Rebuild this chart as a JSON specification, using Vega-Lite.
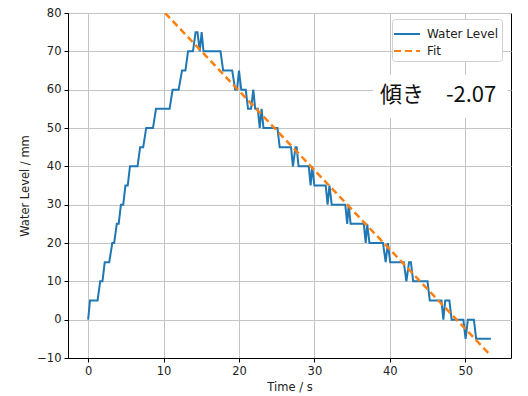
{
  "$schema": "https://vega.github.io/schema/vega-lite/v6.json",
  "width": 443,
  "height": 345,
  "autosize": {"type": "none"},
  "padding": {"left": 68, "top": 13, "right": 17, "bottom": 38},
  "background": "white",
  "config": {
    "view": {"stroke": "#000000", "strokeWidth": 1},
    "font": "DejaVu Sans",
    "axis": {
      "labelFont": "DejaVu Sans",
      "titleFont": "DejaVu Sans",
      "labelFontSize": 11.5,
      "titleFontSize": 11.5,
      "titleFontWeight": "normal",
      "labelColor": "#222222",
      "titleColor": "#222222",
      "domainColor": "#000000",
      "tickColor": "#000000",
      "tickSize": 4,
      "gridColor": "#c4c4c4",
      "gridWidth": 1
    },
    "legend": {
      "symbolType": "M-1.3,0H1.3",
      "symbolSize": 400,
      "symbolStrokeWidth": 2,
      "labelFont": "DejaVu Sans",
      "labelFontSize": 12,
      "labelColor": "#222222",
      "fillColor": "white",
      "strokeColor": "#d0d0d0",
      "cornerRadius": 3,
      "padding": 4,
      "rowPadding": 0,
      "labelOffset": 9
    }
  },
  "datasets": {
    "water": [
      {"t": 0, "level": 0}, {"t": 0.25, "level": 5}, {"t": 1.25, "level": 5}, {"t": 1.6, "level": 10},
      {"t": 1.9, "level": 10}, {"t": 2.2, "level": 15}, {"t": 2.8, "level": 15}, {"t": 3.2, "level": 20},
      {"t": 3.45, "level": 20}, {"t": 3.8, "level": 25}, {"t": 4.05, "level": 25}, {"t": 4.35, "level": 30},
      {"t": 4.65, "level": 30}, {"t": 4.95, "level": 35}, {"t": 5.25, "level": 35}, {"t": 5.55, "level": 40},
      {"t": 6.55, "level": 40}, {"t": 6.9, "level": 45}, {"t": 7.3, "level": 45}, {"t": 7.7, "level": 50},
      {"t": 8.6, "level": 50}, {"t": 9.0, "level": 55}, {"t": 10.8, "level": 55}, {"t": 11.2, "level": 60},
      {"t": 12.0, "level": 60}, {"t": 12.45, "level": 65}, {"t": 12.9, "level": 65}, {"t": 13.25, "level": 70},
      {"t": 13.9, "level": 70}, {"t": 14.25, "level": 75}, {"t": 14.5, "level": 75}, {"t": 14.8, "level": 70},
      {"t": 15.05, "level": 75}, {"t": 15.3, "level": 70}, {"t": 17.55, "level": 70}, {"t": 17.9, "level": 65},
      {"t": 19.1, "level": 65}, {"t": 19.5, "level": 60}, {"t": 19.75, "level": 60}, {"t": 20.0, "level": 65},
      {"t": 20.3, "level": 60}, {"t": 20.9, "level": 60}, {"t": 21.2, "level": 55}, {"t": 21.6, "level": 55},
      {"t": 21.9, "level": 60}, {"t": 22.15, "level": 55}, {"t": 22.5, "level": 55}, {"t": 22.75, "level": 50},
      {"t": 23.0, "level": 55}, {"t": 23.25, "level": 50}, {"t": 25.1, "level": 50}, {"t": 25.4, "level": 45},
      {"t": 26.9, "level": 45}, {"t": 27.15, "level": 40}, {"t": 27.5, "level": 45}, {"t": 27.65, "level": 45},
      {"t": 27.9, "level": 40}, {"t": 29.25, "level": 40}, {"t": 29.5, "level": 35}, {"t": 29.7, "level": 40},
      {"t": 30.0, "level": 35}, {"t": 31.5, "level": 35}, {"t": 31.75, "level": 30}, {"t": 32.0, "level": 35},
      {"t": 32.3, "level": 30}, {"t": 34.1, "level": 30}, {"t": 34.35, "level": 25}, {"t": 34.55, "level": 30},
      {"t": 34.8, "level": 25}, {"t": 36.55, "level": 25}, {"t": 36.8, "level": 20}, {"t": 37.0, "level": 25},
      {"t": 37.3, "level": 20}, {"t": 39.1, "level": 20}, {"t": 39.45, "level": 15}, {"t": 39.75, "level": 20},
      {"t": 40.05, "level": 15}, {"t": 41.85, "level": 15}, {"t": 42.2, "level": 10}, {"t": 42.55, "level": 15},
      {"t": 42.8, "level": 15}, {"t": 43.1, "level": 10}, {"t": 45.0, "level": 10}, {"t": 45.3, "level": 5},
      {"t": 46.85, "level": 5}, {"t": 47.1, "level": 0}, {"t": 47.35, "level": 5}, {"t": 47.9, "level": 5},
      {"t": 48.2, "level": 0}, {"t": 49.75, "level": 0}, {"t": 50.05, "level": -5}, {"t": 50.35, "level": 0},
      {"t": 51.15, "level": 0}, {"t": 51.45, "level": -5}, {"t": 53.4, "level": -5}
    ],
    "fit": [
      {"t": 10.2, "level": 80},
      {"t": 53.4, "level": -9.4}
    ],
    "box": [
      {"x1": 37.8, "x2": 55.6, "y1": 52.7, "y2": 63.9}
    ],
    "label": [
      {"t": 46.4, "level": 58.7, "text": "傾き　-2.07"}
    ]
  },
  "layer": [
    {
      "data": {"name": "box"},
      "mark": {"type": "rect", "fill": "white", "stroke": null},
      "encoding": {
        "x": {"field": "x1", "type": "quantitative", "scale": {"domain": [-2.67, 56.07], "nice": false, "zero": false},
              "axis": {"values": [0, 10, 20, 30, 40, 50], "title": "Time / s", "labelPadding": 3, "titlePadding": 5}},
        "x2": {"field": "x2"},
        "y": {"field": "y1", "type": "quantitative", "scale": {"domain": [-10, 80], "nice": false, "zero": false},
              "axis": {"tickCount": 10, "title": "Water Level / mm", "labelPadding": 3, "titlePadding": 6, "labelOverlap": true, "labelSeparation": -30, "labelFlush": false}},
        "y2": {"field": "y2"}
      }
    },
    {
      "data": {"name": "water"},
      "transform": [{"calculate": "'Water Level'", "as": "series"}],
      "mark": {"type": "line", "strokeWidth": 2, "clip": true},
      "encoding": {
        "x": {"field": "t", "type": "quantitative"},
        "y": {"field": "level", "type": "quantitative"},
        "color": {"field": "series", "type": "nominal",
                  "scale": {"domain": ["Water Level", "Fit"], "range": ["#1f77b4", "#ff7f0e"]},
                  "legend": {"title": null, "orient": "none", "legendX": 324, "legendY": 6}},
        "strokeDash": {"field": "series", "type": "nominal",
                       "scale": {"domain": ["Water Level", "Fit"], "range": [[1, 0], [7, 4]]},
                       "legend": {"title": null, "orient": "none", "legendX": 324, "legendY": 6}}
      }
    },
    {
      "data": {"name": "fit"},
      "transform": [{"calculate": "'Fit'", "as": "series"}],
      "mark": {"type": "line", "strokeWidth": 2.5, "clip": true},
      "encoding": {
        "x": {"field": "t", "type": "quantitative"},
        "y": {"field": "level", "type": "quantitative"},
        "color": {"field": "series", "type": "nominal"},
        "strokeDash": {"field": "series", "type": "nominal"}
      }
    },
    {
      "data": {"name": "label"},
      "mark": {"type": "text", "font": "Noto Sans CJK JP", "fontSize": 22, "align": "center", "baseline": "middle", "color": "#111111"},
      "encoding": {
        "x": {"field": "t", "type": "quantitative"},
        "y": {"field": "level", "type": "quantitative"},
        "text": {"field": "text"}
      }
    }
  ]
}
